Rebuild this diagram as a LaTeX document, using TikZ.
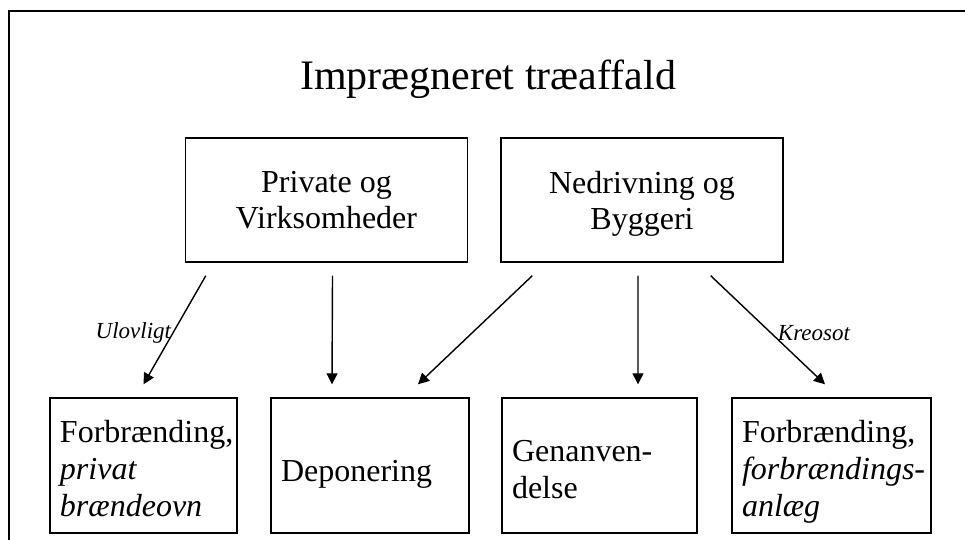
\documentclass[tikz,border=0pt]{standalone}
\usepackage{fontspec}
\setmainfont{Liberation Serif}
\usetikzlibrary{arrows.meta,shapes}

\begin{document}
\begin{tikzpicture}[x=1bp, y=-1bp, line width=1.4bp,
		box/.style={rectangle, draw, font=\fontsize{32bp}{36bp}\selectfont},
		srcbox/.style={box, minimum width=282bp, minimum height=124bp, align=center, text depth=0bp},
		destbox/.style={box, minimum height=135bp, inner xsep=10bp, align=left,
			font=\fontsize{32bp}{37bp}\selectfont,
			execute at begin node={\hyphenpenalty=10000\exhyphenpenalty=10000}},
		flow/.style={-{Triangle[length=11bp, width=11bp]}},
		note/.style={font=\fontsize{23bp}{26bp}\selectfont\itshape, inner sep=1bp}]
		\useasboundingbox (0, 0) rectangle (965, 540);
		\draw (9, 11) rectangle (980, 560);
		\node[font=\fontsize{42bp}{48bp}\selectfont, anchor=base] (title) at (488, 90) {Imprægneret træaffald};
		% sources
		\node[srcbox] (pv) at (326.5, 200) {Private og\\Virksomheder};
		\node[srcbox] (nb) at (642, 200) {Nedrivning og\\Byggeri};
		% destinations
		\node[destbox, minimum width=187bp, text width=167bp, text depth=68bp] (fp) at (143.5, 465.5) {Forbrænding,\\\textit{privat}\\\textit{brændeovn}};
		\node[destbox, minimum width=198bp, text width=178bp, text height=31bp, text depth=0bp] (dep) at (370, 465.5) {Deponering};
		\node[destbox, minimum width=195bp, text width=175bp, text depth=28.6bp] (gen) at (599.5, 465.5) {Genanven-\\delse};
		\node[destbox, minimum width=199bp, text width=179bp, text depth=68bp] (fa) at (831.5, 465.5) {Forbrænding,\\\textit{forbrændings-}\\\textit{anlæg}};
		% flows
		\draw[flow] ([xshift=21bp,yshift=-13bp]pv.south west) -- ([yshift=13bp]fp.north) node[note, pos=0.53, anchor=east] (ulov) {Ulovligt};
		\draw[flow] ([xshift=6bp,yshift=-13bp]pv.south) -- ([xshift=-38bp,yshift=13bp]dep.north);
		\draw[flow] ([xshift=32bp,yshift=-13bp]nb.south west) -- ([xshift=48bp,yshift=13bp]dep.north);
		\draw[flow] ([xshift=-4bp,yshift=-13bp]nb.south) -- ([xshift=38.5bp,yshift=13bp]gen.north);
		\draw[flow] ([xshift=-73bp,yshift=-13bp]nb.south east) -- ([xshift=-6.5bp,yshift=13bp]fa.north) node[note, pos=0.53, anchor=west, xshift=5bp] (kreo) {Kreosot};
\end{tikzpicture}
\end{document}
